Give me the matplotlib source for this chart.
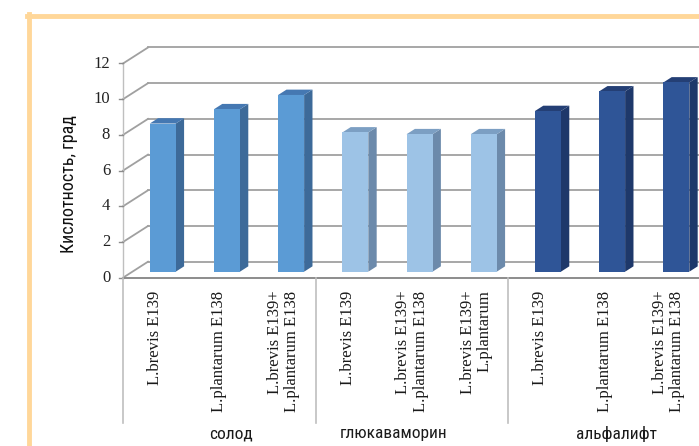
import matplotlib
matplotlib.use("Agg")
import matplotlib.pyplot as plt
from matplotlib import font_manager as fm
from matplotlib.patches import Polygon
from matplotlib.lines import Line2D

# ---------------- data ----------------
categories = ["L.brevis E139", "L.plantarum E138", "L.brevis E139+\nL.plantarum E138",
              "L.brevis E139", "L.brevis E139+\nL.plantarum E138", "L.brevis E139+\nL.plantarum",
              "L.brevis E139", "L.plantarum E138", "L.brevis E139+\nL.plantarum E138"]
values = [8.3, 9.1, 9.9, 7.8, 7.7, 7.7, 9.0, 10.1, 10.6]
groups = ["солод", "глюкаваморин", "альфалифт"]
group_of_bar = [0, 0, 0, 1, 1, 1, 2, 2, 2]
yticks = [0, 2, 4, 6, 8, 10, 12]
ylabel = "Кислотность, град"

# ---------------- styles ----------------
front_cols = ["#5B9BD5", "#9DC3E6", "#2F5597"]
side_cols = ["#3D6A99", "#6C8AAB", "#1E386A"]
top_cols = ["#4578B2", "#7C9FC3", "#243F75"]

names = {f.name for f in fm.fontManager.ttflist}
def cond_font(size):
    for n in ["Roboto Condensed", "Liberation Sans Narrow", "Open Sans Condensed"]:
        if n in names:
            return fm.FontProperties(family=n, size=size)
    return fm.FontProperties(family="DejaVu Sans", stretch="condensed", size=size)

serif = "Liberation Serif"

W, H = 699, 446
fig = plt.figure(figsize=(W / 100, H / 100), dpi=100)
ax = fig.add_axes([0, 0, 1, 1])
# pixel mapping: px = 123 + 64.2*x ; py(from top) = 277.7 - 17.85*y
ax.set_xlim(-123 / 64.2, (W - 123) / 64.2)
ax.set_ylim((277.7 - H) / 17.85, 277.7 / 17.85)
ax.axis("off")

DX = 25 / 64.2
DY = 16 / 17.85
def P(x, y, d):
    return (x + d * DX, y + d * DY)

grid_c = "#A0A0A0"
n = len(values)
xmax = n + 1.5
# back wall gridlines and side wall diagonals
for v in yticks:
    a = P(0, v, 1); b = P(xmax, v, 1)
    ax.plot([a[0], b[0]], [a[1], b[1]], color=grid_c, lw=1.3, zorder=1)
    c = P(0, v, 0)
    ax.plot([c[0], a[0]], [c[1], a[1]], color=grid_c, lw=1.3, zorder=1)
# front vertical axis
a = P(0, 0, 0); b = P(0, yticks[-1], 0)
ax.plot([a[0], b[0]], [a[1], b[1]], color="#BFBFBF", lw=1.0, zorder=1)
# front x axis
a = P(0, 0, 0); b = P(xmax, 0, 0)
ax.plot([a[0], b[0]], [a[1], b[1]], color="#8C8C8C", lw=1.4, zorder=2)

# y tick labels & ticks
for v in yticks:
    x0, y0 = P(0, v, 0)
    ax.plot([x0 - 0.07, x0], [y0, y0], color="#8C8C8C", lw=1.0, zorder=2)
    ax.text(x0 - 0.2, y0, str(v), ha="right", va="center", fontsize=12,
            family=serif, color="#222222")

# bars
d0, d1 = 0.375, 0.71
bw = 0.405
for i, v in enumerate(values):
    g = group_of_bar[i]
    a = i + 0.27
    front = [P(a, 0, d0), P(a + bw, 0, d0), P(a + bw, v, d0), P(a, v, d0)]
    side = [P(a + bw, 0, d0), P(a + bw, 0, d1), P(a + bw, v, d1), P(a + bw, v, d0)]
    top = [P(a, v, d0), P(a + bw, v, d0), P(a + bw, v, d1), P(a, v, d1)]
    ax.add_patch(Polygon(side, closed=True, fc=side_cols[g], ec="none", zorder=3))
    ax.add_patch(Polygon(top, closed=True, fc=top_cols[g], ec="none", zorder=3))
    ax.add_patch(Polygon(front, closed=True, fc=front_cols[g], ec="none", zorder=4))

# category separators
for k in range(0, n + 1, 3):
    ax.plot([k, k], [0, -8.14], color="#BFBFBF", lw=1.2, zorder=2)

# category labels
for i, lab in enumerate(categories):
    ax.text(i + 0.5, -0.72, lab, rotation=90, ha="center", va="top",
            multialignment="right", fontsize=12, family=serif,
            color="#1a1a1a", linespacing=1.1)

# group labels
group_x = [1.68, 4.21, 7.69]
for gx, gl in zip(group_x, groups):
    ax.text(gx, -8.75, gl, ha="center", va="center", fontproperties=cond_font(12.5),
            color="#1a1a1a")

# y axis label
fig.text(68.5 / W, 1 - 184 / H, ylabel, rotation=90, ha="center", va="center",
         fontproperties=cond_font(13), color="#111111")

# orange frame
border = "#FFD799"
fig.add_artist(Line2D([27 / W, 1], [1 - 16 / H, 1 - 16 / H], color=border, lw=3.5))
fig.add_artist(Line2D([29 / W, 29 / W], [0, 1 - 14 / H], color=border, lw=3.5))

fig.savefig("out.png", dpi=100)
